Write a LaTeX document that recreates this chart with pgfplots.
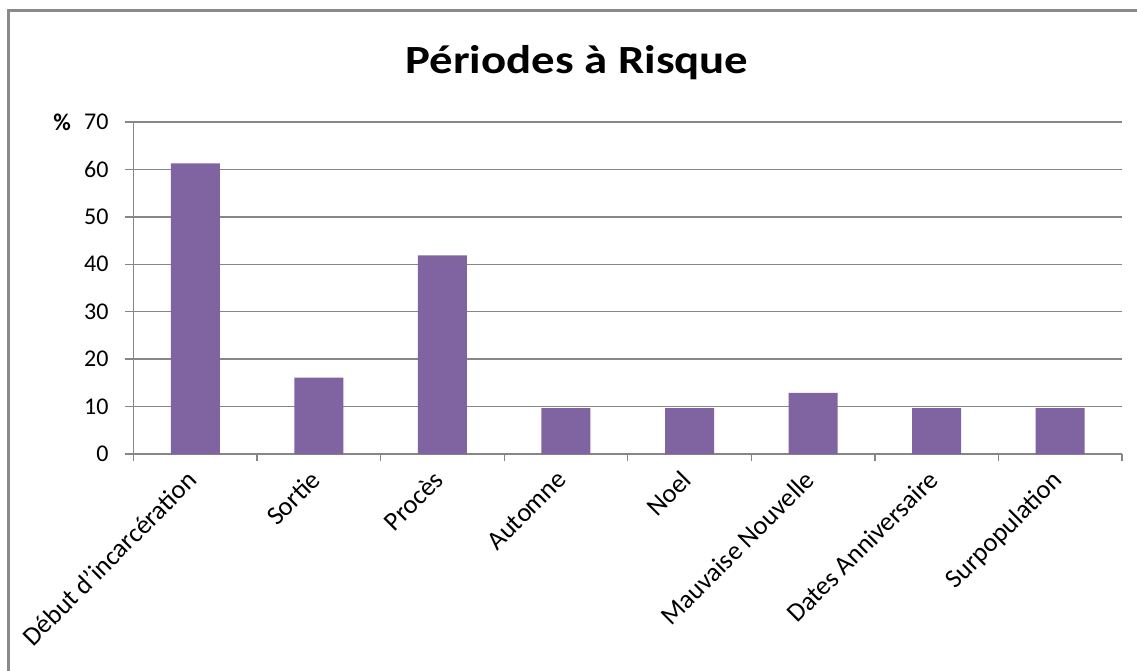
\documentclass[border=0pt]{standalone}
\usepackage{pgfplots}
\pgfplotsset{compat=1.18}
\usepackage{fontspec}
\setmainfont{Carlito}
\definecolor{barc}{HTML}{8064A2}
\definecolor{axc}{HTML}{868686}
\definecolor{framec}{HTML}{8A8A8A}
\begin{document}
\begin{tikzpicture}[x=1pt,y=1pt]
\useasboundingbox[fill=white] (-133.5,-216) rectangle (1003.5,454);
\draw[framec, line width=3pt] (-125,-230) -- (-125,443) -- (1010,443);
\node[font=\fontsize{40}{44}\selectfont\bfseries] at (443.5,391) {\scalebox{1.17}[1]{Périodes à Risque}};
\begin{axis}[
  anchor=south west,
  scale only axis, width=988.5pt, height=332pt,
  xmin=0.5, xmax=8.5, ymin=0, ymax=70,
  ytick={0,10,...,70},
  xtick={1,...,8},
  xticklabels={Début d'incarcération, Sortie, Procès, Automne, Noel, Mauvaise Nouvelle, Dates Anniversaire, Surpopulation},
  minor xtick={0.5,1.5,...,8.5},
  axis x line*=bottom, axis y line*=left,
  axis line style={axc, line width=1.3pt},
  x axis line style={line width=2pt},
  ymajorgrids, grid style={axc, line width=1.3pt},
  tick align=outside,
  major tick length=8.5pt, minor tick length=7pt,
  major x tick style={draw=none},
  minor x tick style={axc, line width=1.3pt},
  major y tick style={axc, line width=1.3pt},
  /pgf/number format/assume math mode=true,
  tick label style={font=\fontsize{24}{28}\selectfont, text=black},
  yticklabel style={xshift=-13pt},
  xticklabel style={font=\fontsize{26.5}{30}\selectfont, rotate=45, anchor=north east, xshift=-8pt, yshift=6pt},
  clip=false,
]
\addplot[ybar, bar width=49pt, bar shift=0pt, fill=barc, draw=none] coordinates {
  (1,61.3) (2,16.1) (3,41.9) (4,9.7) (5,9.7) (6,12.9) (7,9.7) (8,9.7)};
\node[font=\fontsize{24}{28}\selectfont\bfseries, anchor=center] at ([xshift=-71.5pt]rel axis cs:0,1) {\%};
\end{axis}
\end{tikzpicture}
\end{document}
